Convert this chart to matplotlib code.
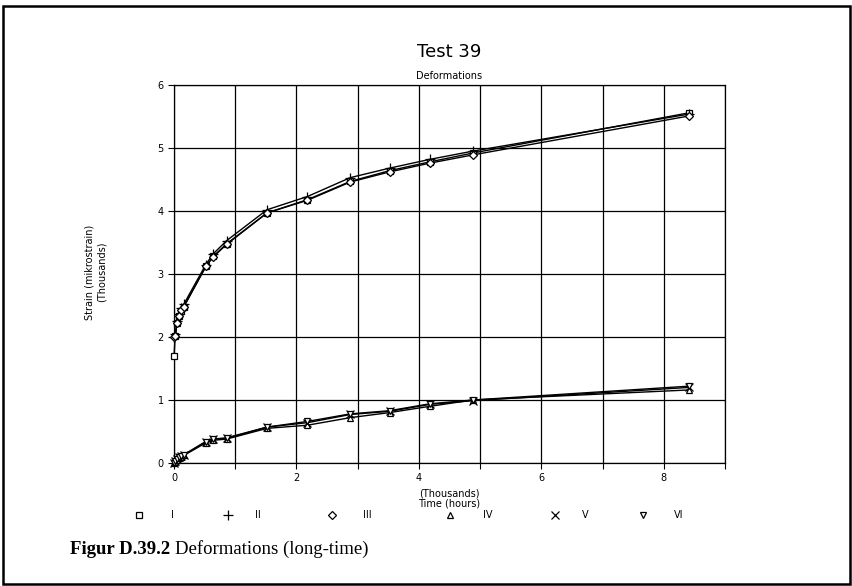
import matplotlib
matplotlib.use("Agg")
import matplotlib.pyplot as plt
from matplotlib.patches import Rectangle
from matplotlib.lines import Line2D

# Time (thousands of hours)
time = [0, 0.02, 0.05, 0.08, 0.12, 0.16, 0.52, 0.64, 0.86, 1.52, 2.18, 2.88, 3.52, 4.18, 4.88, 8.42]

# Strain (thousands of mikrostrain)
s1 = [1.70, 2.02, 2.22, 2.33, 2.42, 2.48, 3.12, 3.28, 3.48, 3.97, 4.18, 4.47, 4.64, 4.78, 4.92, 5.56]
s2 = [2.00, 2.04, 2.26, 2.37, 2.46, 2.52, 3.15, 3.32, 3.53, 4.02, 4.23, 4.53, 4.68, 4.82, 4.95, 5.54]
s3 = [2.00, 2.02, 2.22, 2.33, 2.43, 2.48, 3.12, 3.27, 3.47, 3.97, 4.17, 4.46, 4.62, 4.76, 4.89, 5.51]
s4 = [0.00, 0.02, 0.05, 0.08, 0.10, 0.12, 0.32, 0.36, 0.38, 0.55, 0.60, 0.72, 0.80, 0.90, 1.00, 1.16]
s5 = [0.00, 0.03, 0.06, 0.09, 0.11, 0.13, 0.34, 0.38, 0.40, 0.57, 0.64, 0.77, 0.82, 0.93, 0.99, 1.20]
s6 = [0.00, 0.03, 0.06, 0.09, 0.11, 0.13, 0.34, 0.38, 0.39, 0.57, 0.66, 0.78, 0.83, 0.94, 1.00, 1.22]

series = [s1, s2, s3, s4, s5, s6]
names = ["I", "II", "III", "IV", "V", "VI"]
markers = ["s", "+", "D", "^", "x", "v"]
msizes = [5, 7, 4, 5, 6, 5]

font = "DejaVu Sans"

fig = plt.figure(figsize=(8.53, 5.86), dpi=100)
ax = fig.add_axes([174 / 853, 1 - 463 / 586, 551 / 853, 378 / 586])

for y, m, ms in zip(series, markers, msizes):
    ax.plot(time, y, color="black", linewidth=1.0, marker=m, markersize=ms,
            markerfacecolor="white", markeredgecolor="black", markeredgewidth=0.9,
            clip_on=False, zorder=3)

ax.set_xlim(0, 9)
ax.set_ylim(0, 6)
ax.set_xticks(range(0, 10))
ax.set_xticklabels(["0", "", "2", "", "4", "", "6", "", "8", ""])
ax.set_yticks(range(0, 7))
ax.tick_params(direction="out", length=4, width=0.8, labelsize=7, colors="black")
for lab in ax.get_xticklabels() + ax.get_yticklabels():
    lab.set_family(font)
ax.grid(True, color="black", linewidth=0.9)
for sp in ax.spines.values():
    sp.set_linewidth(0.9)

fig.text(449 / 853, 1 - 52 / 586, "Test 39", ha="center", va="center", fontsize=13, family=font)
fig.text(449 / 853, 1 - 76 / 586, "Deformations", ha="center", va="center", fontsize=7, family=font)

fig.text(449 / 853, 1 - 493 / 586, "(Thousands)", ha="center", va="center", fontsize=7, family=font)
fig.text(449 / 853, 1 - 504 / 586, "Time (hours)", ha="center", va="center", fontsize=7, family=font)

fig.text(90 / 853, 1 - 272 / 586, "Strain (mikrostrain)", ha="center", va="center", rotation=90,
         fontsize=7, family=font)
fig.text(102 / 853, 1 - 272 / 586, "(Thousands)", ha="center", va="center", rotation=90,
         fontsize=7, family=font)

# legend row below the x label
mark_x = [139, 228, 332, 450, 555, 643]
name_x = [172, 258, 367, 488, 585, 679]
for mx, nx, m, ms, nm in zip(mark_x, name_x, markers, msizes, names):
    fig.add_artist(Line2D([mx / 853], [1 - 515 / 586], marker=m, markersize=ms, color="black",
                          markerfacecolor="white", markeredgewidth=0.9, linestyle="none"))
    fig.text(nx / 853, 1 - 515 / 586, nm, ha="center", va="center", fontsize=7, family=font)

# caption
bold = fig.text(70 / 853, 1 - 549 / 586, "Figur D.39.2", ha="left", va="center", fontsize=13.5,
                family="Liberation Serif", weight="bold")
fig.canvas.draw()
bb = bold.get_window_extent()
fig.text((bb.x1 + 5) / 853, 1 - 549 / 586, "Deformations (long-time)", ha="left", va="center",
         fontsize=13.5, family="Liberation Serif")

# outer frame
fig.add_artist(Rectangle((3 / 853, 2 / 586), 847 / 853, 578 / 586, transform=fig.transFigure,
                         fill=False, edgecolor="black", linewidth=1.8))

fig.savefig("out.png", dpi=100)
